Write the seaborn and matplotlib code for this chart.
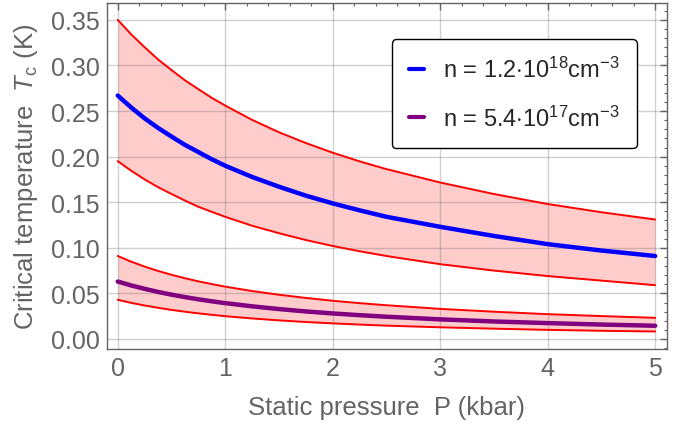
import numpy as np
import pandas as pd
import matplotlib
matplotlib.use("Agg")
import matplotlib.pyplot as plt
import seaborn as sns
from matplotlib.ticker import MultipleLocator, FormatStrFormatter

# pressure grid (kbar) and values (K)
pressure = [0, 0.125, 0.25, 0.375, 0.5, 0.625, 0.75, 0.875, 1, 1.25, 1.5, 1.75,
            2, 2.25, 2.5, 3, 3.5, 4, 4.5, 5]

# n = 1.2e18 cm^-3
tc_high = [0.267, 0.2539, 0.242, 0.2315, 0.222, 0.2129, 0.205, 0.1971, 0.190, 0.1777,
           0.167, 0.1572, 0.1487, 0.1411, 0.134, 0.123, 0.113, 0.104, 0.097, 0.091]
tc_high_up = [0.350, 0.3341, 0.320, 0.3066, 0.295, 0.2837, 0.274, 0.2644, 0.256, 0.2403,
              0.2267, 0.2149, 0.2043, 0.1948, 0.1863, 0.1716, 0.159, 0.148, 0.139, 0.131]
tc_high_lo = [0.195, 0.1845, 0.175, 0.1665, 0.159, 0.1518, 0.145, 0.1394, 0.134, 0.1242,
              0.116, 0.1085, 0.102, 0.0962, 0.091, 0.082, 0.075, 0.069, 0.064, 0.059]

# n = 5.4e17 cm^-3
tc_low = [0.063, 0.0587, 0.055, 0.0516, 0.0486, 0.0459, 0.0435, 0.0413, 0.0393, 0.0358,
          0.0328, 0.0302, 0.0280, 0.0261, 0.0244, 0.0215, 0.0192, 0.0174, 0.0158, 0.0145]
tc_low_up = [0.091, 0.0848, 0.0794, 0.0746, 0.0704, 0.0666, 0.0632, 0.0602, 0.0574, 0.0526,
             0.0485, 0.0450, 0.0419, 0.0393, 0.0370, 0.0330, 0.0299, 0.0272, 0.0251, 0.0232]
tc_low_lo = [0.043, 0.0396, 0.0367, 0.0342, 0.0319, 0.0299, 0.0281, 0.0265, 0.0250, 0.0225,
             0.0204, 0.0186, 0.0171, 0.0158, 0.0146, 0.0128, 0.0113, 0.0100, 0.0090, 0.0082]

labels = [r"n = 1.2$\cdot$10$^{18}$cm$^{-3}$", r"n = 5.4$\cdot$10$^{17}$cm$^{-3}$"]

df = pd.DataFrame({"P": pressure, "high": tc_high, "low": tc_low})

sns.set_style("white")
plt.rcParams["font.family"] = ["Liberation Sans", "DejaVu Sans"]
plt.rcParams["mathtext.fontset"] = "custom"
plt.rcParams["mathtext.rm"] = "Liberation Sans"
plt.rcParams["mathtext.it"] = "Liberation Sans:italic"

gray = "#646464"

fig = plt.figure(figsize=(6.91, 4.31), dpi=100)
ax = fig.add_axes([107 / 691, 1 - 350 / 431, 560 / 691, 346 / 431])

# shaded uncertainty bands
ax.fill_between(pressure, tc_high_lo, tc_high_up, color="#ffcccc", lw=0, zorder=1)
ax.fill_between(pressure, tc_low_lo, tc_low_up, color="#ffcccc", lw=0, zorder=1)
for band in [tc_high_up, tc_high_lo, tc_low_up, tc_low_lo]:
    ax.plot(pressure, band, color="red", lw=1.4, zorder=3)

sns.lineplot(data=df, x="P", y="high", color="#0000ff", lw=3.2, ax=ax, label=labels[0], zorder=4)
sns.lineplot(data=df, x="P", y="low", color="#800080", lw=3.2, ax=ax, label=labels[1], zorder=4)

ax.set_xlim(-0.1, 5.11)
ax.set_ylim(-0.011, 0.3685)
ax.xaxis.set_major_locator(MultipleLocator(1))
ax.xaxis.set_minor_locator(MultipleLocator(0.2))
ax.yaxis.set_major_locator(MultipleLocator(0.05))
ax.yaxis.set_minor_locator(MultipleLocator(0.01))
ax.yaxis.set_major_formatter(FormatStrFormatter("%.2f"))

ax.set_axisbelow(False)
ax.grid(True, which="major", color="#666666", alpha=0.3, lw=1.0, zorder=2)

for s in ax.spines.values():
    s.set_color(gray)
    s.set_linewidth(1.0)
ax.tick_params(which="both", direction="in", top=True, right=True, colors=gray,
               labelsize=18, labelcolor=gray, pad=5)
ax.tick_params(which="major", length=5, width=1)
ax.tick_params(which="minor", length=2.5, width=0.8)

ax.set_xlabel("Static pressure  P (kbar)", fontsize=18.5, color=gray, labelpad=11)
ax.set_ylabel(r"Critical temperature  $T_{\mathrm{c}}$ (K)", fontsize=18.5, color=gray, labelpad=8)

leg = ax.legend(loc="upper right", bbox_to_anchor=(637 / 691, 1 - 40 / 431),
                bbox_transform=fig.transFigure, borderaxespad=0, fontsize=17, frameon=True,
                fancybox=True, framealpha=1, edgecolor="black",
                handlelength=0.6, handletextpad=0.8, labelspacing=1.0, borderpad=0.75)
leg.get_frame().set_linewidth(1.0)
for h in leg.get_lines():
    h.set_linewidth(3)

fig.savefig("out.png", dpi=100)
